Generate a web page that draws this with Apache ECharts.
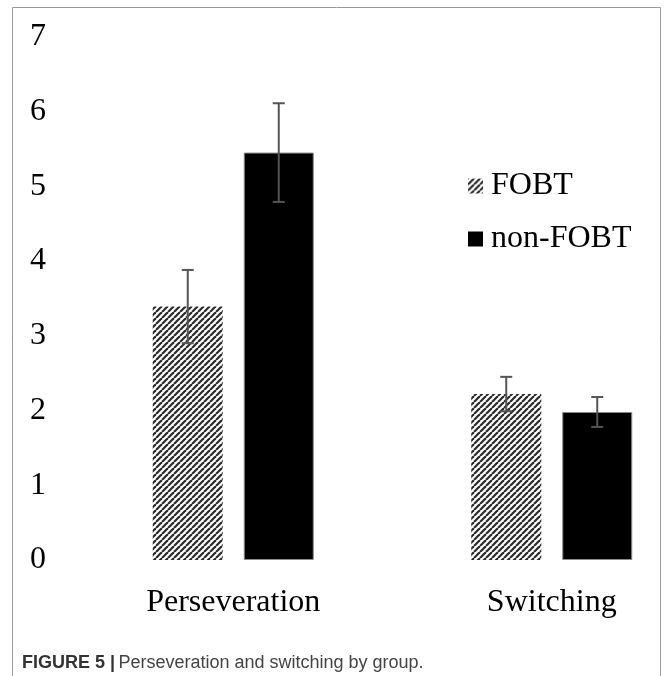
<!DOCTYPE html>
<html>
<head>
<meta charset="utf-8">
<script src="https://cdn.jsdelivr.net/npm/echarts@6/dist/echarts.min.js"></script>
<style>
html,body{margin:0;padding:0;background:#fff;}
#chart{width:665px;height:676px;}
</style>
</head>
<body>
<div id="chart"></div>
<script>
// ---- data ----
const categories = ['Perseveration', 'Switching'];
const seriesNames = ['FOBT', 'non-FOBT'];
const fobtValues = [3.39, 2.22];
const fobtErrors = [0.49, 0.23];
const nonFobtValues = [5.45, 1.98];
const nonFobtErrors = [0.66, 0.20];
const yTicks = [0, 1, 2, 3, 4, 5, 6, 7];

// ---- styles ----
const BAR_W = 70;
const BAR_GAP = 21;
const serif = '"Liberation Serif", "DejaVu Serif", serif';

function makeHatch() {
  const c = document.createElement('canvas');
  c.width = 6; c.height = 6;
  const ctx = c.getContext('2d');
  ctx.fillStyle = '#ffffff';
  ctx.fillRect(0, 0, 6, 6);
  ctx.strokeStyle = '#2b2b2b';
  ctx.lineWidth = 2.2;
  for (const o of [-6, 0, 6]) {
    ctx.beginPath();
    ctx.moveTo(o, 6);
    ctx.lineTo(o + 6, 0);
    ctx.stroke();
  }
  return c;
}
const hatch = { image: makeHatch(), repeat: 'repeat' };

function errorSeries(values, errors, offset) {
  return {
    type: 'custom',
    z: 10,
    silent: true,
    data: values.map((v, i) => [i, v - errors[i], v + errors[i]]),
    renderItem: function (params, api) {
      const lo = api.coord([api.value(0), api.value(1)]);
      const hi = api.coord([api.value(0), api.value(2)]);
      const x = lo[0] + offset;
      const cap = 6;
      const style = { stroke: '#555555', lineWidth: 2 };
      return {
        type: 'group',
        children: [
          { type: 'line', shape: { x1: x, y1: lo[1], x2: x, y2: hi[1] }, style: style },
          { type: 'line', shape: { x1: x - cap, y1: lo[1], x2: x + cap, y2: lo[1] }, style: style },
          { type: 'line', shape: { x1: x - cap, y1: hi[1], x2: x + cap, y2: hi[1] }, style: style }
        ]
      };
    }
  };
}

const chart = echarts.init(document.getElementById('chart'), null, { renderer: 'canvas' });
const half = (BAR_W + BAR_GAP) / 2;

chart.setOption({
  backgroundColor: '#ffffff',
  animation: false,
  grid: { left: 74, width: 637, top: 36.7, bottom: 116, containLabel: false, outerBoundsMode: 'none' },
  legend: {
    data: seriesNames.map(n => ({ name: n, icon: 'rect' })),
    orient: 'vertical',
    left: 468,
    top: 170,
    itemWidth: 15,
    itemHeight: 15,
    itemGap: 21,
    padding: 0,
    itemStyle: { borderWidth: 0 },
    textStyle: { fontFamily: serif, fontSize: 32, color: '#000', padding: [0, 0, 0, 3] }
  },
  xAxis: {
    type: 'category',
    data: categories,
    axisLine: { show: false },
    axisTick: { show: false },
    axisLabel: { fontFamily: serif, fontSize: 32, color: '#000', margin: 27 }
  },
  yAxis: {
    type: 'value',
    min: yTicks[0],
    max: yTicks[yTicks.length - 1],
    interval: 1,
    axisLine: { show: false },
    axisTick: { show: false },
    splitLine: { show: false },
    axisLabel: { fontFamily: serif, fontSize: 32, color: '#000', margin: 28 }
  },
  series: [
    {
      name: seriesNames[0], type: 'bar', data: fobtValues,
      barWidth: BAR_W, barGap: (BAR_GAP / BAR_W * 100) + '%',
      itemStyle: { color: hatch }
    },
    {
      name: seriesNames[1], type: 'bar', data: nonFobtValues,
      barWidth: BAR_W,
      itemStyle: { color: '#000000', borderColor: '#8a8a8a', borderWidth: 1 }
    },
    errorSeries(fobtValues, fobtErrors, -half),
    errorSeries(nonFobtValues, nonFobtErrors, half)
  ],
  graphic: [
    {
      type: 'polyline',
      shape: { points: [[12.5, 700], [12.5, 7.5], [660.5, 7.5], [660.5, 700]] },
      style: { stroke: '#9a9a9a', lineWidth: 1, fill: null },
      silent: true
    },
    {
      type: 'text',
      left: 22,
      top: 654,
      style: {
        text: '{b|FIGURE 5 |} {r|Perseveration and switching by group.}',
        rich: {
          b: { fontFamily: 'Arial, "Liberation Sans", sans-serif', fontWeight: 'bold', fontSize: 18, fill: '#333' },
          r: { fontFamily: 'Arial, "Liberation Sans", sans-serif', fontSize: 18, fill: '#444' }
        }
      }
    }
  ]
});
</script>
</body>
</html>
